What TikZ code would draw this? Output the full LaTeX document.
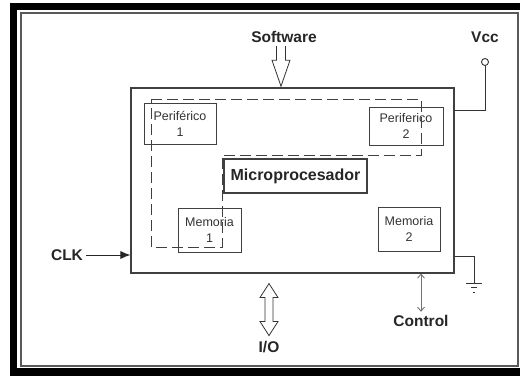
\documentclass[tikz,border=0pt]{standalone}
\usepackage{fontspec}
\setmainfont{Liberation Sans}
\usetikzlibrary{arrows.meta,positioning,calc}

\begin{document}
\begin{tikzpicture}[x=1pt, y=-1pt,
  chipbox/.style={draw=black!75, line width=1.1pt, inner sep=0pt},
  part/.style={draw=black!75, line width=0.9pt, align=center, inner sep=0pt, text=black!80, font=\fontsize{12.5}{16}\selectfont},
  lbl/.style={text=black!85, font=\fontsize{15.5}{18}\selectfont\bfseries},
  arr/.style={-{Latex[length=10pt,width=8pt]}, line width=0.9pt, black!85},
  hollow/.style={draw=black!80, line width=0.8pt, line join=miter},
  wire/.style={draw=black!80, line width=1pt},
  region/.style={draw=black!75, line width=1pt, dash pattern=on 11pt off 5pt}
]
\useasboundingbox (0,0) rectangle (520,376);

% frame
\fill[black] (10,3) rectangle (520,376);
\fill[white] (17,10) rectangle (520,368);
\draw[black!65, line width=2pt] (21,13) rectangle (517.5,366);

% chip and its blocks
\node[chipbox, minimum width=323, minimum height=185] (chip) at (292.5,180.5) {};
\node[part, minimum width=72, minimum height=41] (per1) at (180,123.5) {Periférico\\1};
\node[part, minimum width=74, minimum height=38] (per2) at (406,126) {Periferico\\2};
\node[part, minimum width=63, minimum height=44] (mem1) at (209.5,230) {Memoria\\1};
\node[part, minimum width=62, minimum height=44] (mem2) at (409,229) {Memoria\\2};
\node[lbl, draw=black!75, line width=1.1pt, minimum width=143, minimum height=34, inner sep=0pt, font=\fontsize{16}{18}\selectfont\bfseries] (micro) at (295.5,176) {Microprocesador};

\draw[region] (151,99) -- (421,99) -- (421,155) -- (222,155) -- (222,247) -- (151,247) -- cycle;

% outside labels
\node[lbl] (soft) at (284,37) {Software};
\node[lbl] (vcc) at (485,37) {Vcc};
\node[lbl] (clk) at (67,255) {CLK};
\node[lbl] (io) at (269,347) {I/O};
\node[lbl] (ctrl) at (421,321) {Control};

% software input
\draw[hollow] ($(soft.south)+(-7.5,0)$) -- ++(0,14) -- ++(-4.5,0) -- ++(9,26) -- ++(9,-26) -- ++(-4.5,0) -- ++(0,-14);

% supply and ground
\node[circle, draw=black!80, line width=0.9pt, minimum size=7, inner sep=0pt] (vccpin) at (485,62) {};
\draw[wire] (vccpin.south) |- ($(chip.north east)+(0,23)$);
\coordinate (gnd) at (474,283);
\draw[wire] ($(chip.south east)+(0,-17)$) -| (gnd);
\draw[wire] ($(gnd)+(-8,0)$) -- ++(16,0);
\draw[wire] ($(gnd)+(-3,4.5)$) -- ++(6,0);
\draw[wire] ($(gnd)+(-1,9)$) -- ++(2,0);

% clock
\draw[arr] (clk.east) -- (chip.west |- clk.east);

% I/O bus
\coordinate (iotop) at ($(chip.south -| io)+(0,10)$);
\draw[hollow] (iotop) -- ++(9,14) -- ++(-5,0) -- ++(0,24) -- ++(5,0) -- ++(-9,14) -- ++(-9,-14) -- ++(5,0) -- ++(0,-24) -- ++(-5,0) -- cycle;

% control
\draw[black!55, line width=0.9pt, {Straight Barb[length=4pt,width=7pt]}-{Straight Barb[length=4pt,width=7pt]}] (chip.south -| ctrl.north) -- (ctrl.north);

\end{tikzpicture}
\end{document}
